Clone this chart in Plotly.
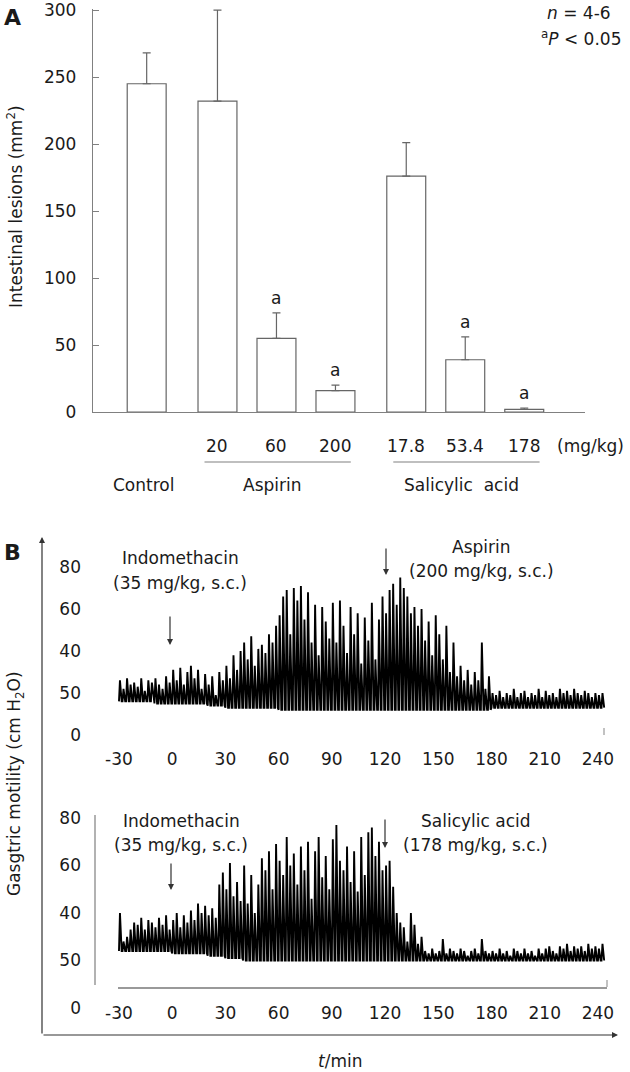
import plotly.graph_objects as go

# ---------------- Panel A data ----------------
group_names = ["Control", "Aspirin", "Salicylic  acid"]
dose_labels = ["", "20", "60", "200", "17.8", "53.4", "178"]
bar_group = [0, 1, 1, 1, 2, 2, 2]
lesion_mean = [245, 232, 55, 16, 176, 39, 2]
lesion_err = [23, 68, 19, 4, 25, 17, 1]
significance = ["", "", "a", "a", "", "a", "a"]
lesion_ticks = [0, 50, 100, 150, 200, 250, 300]

# ---------------- Panel B data ----------------
time_ticks = [-30, 0, 30, 60, 90, 120, 150, 180, 210, 240]
motility_tickvals = [0, 20, 40, 60, 80]
motility_ticktext = ["0", "50", "40", "60", "80"]
trace_start = -30   # min
trace_step = 2      # min between successive contraction peaks

# Aspirin recording: peak heights every 2 min from t = -30
aspirin_peaks = [
    26, 22, 27, 24, 25,  23, 27, 21, 26, 25,  27, 24, 22, 28, 25,
    31, 26, 32, 24, 30,  33, 27, 31, 22, 29,  24, 28, 19, 30, 26,
    33, 27, 38, 31, 40,  44, 36, 47, 33, 41,  43, 39, 48, 44, 52,
    57, 66, 69, 48, 70,  64, 71, 55, 68, 44,  62, 38, 61, 54, 46,
    63, 44, 64, 52, 39,  61, 48, 58, 34, 56,  45, 63, 36, 55, 66,
    58, 69, 72, 62, 75,  70, 66, 58, 61, 52,  60, 45, 54, 38, 57,
    48, 36, 52, 30, 44,  28, 33, 26, 31, 24,  30, 26, 44, 22, 28,
    20, 19, 21, 18, 20,  19, 22, 18, 20, 21,  18, 20, 19, 22, 18,
    21, 19, 20, 18, 22,  20, 21, 19, 22, 20,  19, 21, 20, 18, 20,
    19, 20,
]
# baseline per 10-min segment from t = -30
aspirin_base = [16, 16, 15, 15, 15, 14, 13, 13, 13, 12,
                12, 12, 12, 12, 12, 12, 12, 12, 12, 12,
                12, 13, 13, 13, 13, 13, 13, 13]

# Salicylic acid recording
salicylic_peaks = [
    40, 28, 30, 33, 36,  35, 38, 33, 37, 36,  34, 38, 35, 39, 33,
    37, 40, 34, 39, 36,  41, 37, 44, 40, 43,  39, 42, 38, 52, 57,
    50, 61, 47, 53, 45,  60, 44, 56, 40, 52,  63, 58, 66, 50, 69,
    62, 56, 72, 60, 65,  52, 68, 58, 70, 46,  66, 72, 55, 64, 50,
    71, 77, 62, 58, 68,  53, 66, 49, 72, 56,  74, 76, 64, 70, 58,
    60, 62, 51, 40, 36,  34, 28, 40, 35, 27,  30, 24, 23, 25, 23,
    24, 29, 23, 25, 24,  23, 25, 24, 22, 24,  25, 23, 29, 24, 23,
    24, 23, 25, 23, 24,  22, 25, 24, 23, 25,  23, 24, 22, 25, 23,
    25, 26, 24, 23, 26,  25, 27, 24, 26, 25,  26, 24, 27, 25, 26,
    25, 27,
]
salicylic_base = [24, 24, 24, 23, 23, 22, 21, 20, 20, 20,
                  20, 20, 20, 20, 20, 20, 20, 20, 20, 20,
                  20, 20, 20, 20, 20, 20, 20, 20]

# ---------------- helpers ----------------
W, H = 630, 1072
FONT = "DejaVu Sans"
TXT = "#1a1a1a"
GRAY = "#808080"


def px(x):
    return x / W


def py(y):
    return 1 - y / H


def recording(peaks, base10):
    xs, ys = [], []
    for i, p in enumerate(peaks):
        t = trace_start + i * trace_step
        b = base10[int((t - trace_start) // 10)]
        xs += [t, t + 0.55, t + 1.5]
        ys += [b, p, b]
    return xs, ys


# bar positions (layout): unit spacing within groups, extra gap between groups
positions = []
pos = 0.0
prev_g = None
for g in bar_group:
    if prev_g is not None:
        pos += 1.0 if g == prev_g else 1.2
    positions.append(pos)
    prev_g = g

fig = go.Figure()

fig.add_trace(go.Bar(
    x=positions, y=lesion_mean, width=0.66,
    marker=dict(color="white", line=dict(color="#666666", width=1.2)),
    error_y=dict(type="data", array=lesion_err, arrayminus=[0] * len(lesion_err),
                 symmetric=False, color="#666666", thickness=1.2, width=4),
    xaxis="x", yaxis="y", showlegend=False, hoverinfo="skip", cliponaxis=False,
))

ax_, ay_ = recording(aspirin_peaks, aspirin_base)
fig.add_trace(go.Scatter(x=ax_, y=ay_, mode="lines",
                         line=dict(color="black", width=1.9),
                         xaxis="x2", yaxis="y2", showlegend=False, hoverinfo="skip"))
sx_, sy_ = recording(salicylic_peaks, salicylic_base)
fig.add_trace(go.Scatter(x=sx_, y=sy_, mode="lines",
                         line=dict(color="black", width=1.9),
                         xaxis="x3", yaxis="y3", showlegend=False, hoverinfo="skip"))

# time mapping: px = T0 + K * t
T0, K = 172.2, 1.774


def t_of(pxv):
    return (pxv - T0) / K


annotations = []


def txt(x, y, s, size=17, xanchor="center", yanchor="middle", **kw):
    annotations.append(dict(x=px(x), y=py(y), xref="paper", yref="paper", text=s,
                            showarrow=False, xanchor=xanchor, yanchor=yanchor,
                            font=dict(family=FONT, size=size, color=TXT), **kw))


def arrow(x, y_tip, y_tail=None, x_tail=None):
    ax = 0 if x_tail is None else (x_tail - x)
    ay = 0 if y_tail is None else (y_tail - y_tip)
    annotations.append(dict(x=px(x), y=py(y_tip), xref="paper", yref="paper", text="",
                            showarrow=True, ax=ax, ay=ay, axref="pixel", ayref="pixel",
                            arrowhead=2, arrowsize=1, arrowwidth=1.2, arrowcolor="#333333"))


# Panel A texts
txt(12, 18, "<b>A</b>", size=22)
txt(613, 13, "<i>n</i> = 4-6", xanchor="right")
txt(623, 38, "<sup>a</sup><i>P</i> &lt; 0.05", xanchor="right")
txt(15, 207, "Intestinal lesions (mm<sup>2</sup>)", textangle=-90)

for p, d in zip(positions, dose_labels):
    if d:
        annotations.append(dict(x=p, y=py(446), xref="x", yref="paper", text=d, showarrow=False,
                                font=dict(family=FONT, size=17, color=TXT)))
txt(626, 446, "(mg/kg)", xanchor="right")

for gi, name in enumerate(group_names):
    gp = [p for p, g in zip(positions, bar_group) if g == gi]
    annotations.append(dict(x=sum(gp) / len(gp), y=py(485), xref="x", yref="paper", text=name,
                            showarrow=False, xshift=-4 if gi else -3,
                            font=dict(family=FONT, size=17, color=TXT)))

for p, m, e, s in zip(positions, lesion_mean, lesion_err, significance):
    if s:
        annotations.append(dict(x=p, y=m + e, xref="x", yref="y", text=s, showarrow=False,
                                yanchor="middle", yshift=15,
                                font=dict(family=FONT, size=17, color=TXT)))

shapes = []
for gi in (1, 2):
    gp = [p for p, g in zip(positions, bar_group) if g == gi]
    shapes.append(dict(type="line", xref="x", yref="paper", x0=gp[0] - 0.22, x1=gp[-1] + 0.26,
                       y0=py(462), y1=py(462), line=dict(color=GRAY, width=1.2)))

# Panel B texts
txt(12, 552, "<b>B</b>", size=22)
txt(15, 784, "Gasgtric motility (cm H<sub>2</sub>O)", textangle=-90)
txt(180, 558, "Indomethacin")
txt(180, 583, "(35 mg/kg, s.c.)")
txt(482, 547, "Aspirin")
txt(482, 571, "(200 mg/kg, s.c.)")
txt(182, 821, "Indomethacin")
txt(181, 845, "(35 mg/kg, s.c.)")
txt(476, 821, "Salicylic acid")
txt(475, 845, "(178 mg/kg, s.c.)")
txt(340, 1061, "<i>t</i>/min")

arrow(170, 645, 615)
arrow(386, 575, 547)
arrow(171, 890, 862)
arrow(385, 848, 818)
# outer L-shaped axes with arrowheads
arrow(42, 537, 1035)
arrow(618, 1035, x_tail=42)

# small gray marks
shapes.append(dict(type="line", xref="paper", yref="paper", x0=px(95), x1=px(95),
                   y0=py(815), y1=py(985), line=dict(color="#999999", width=1.5)))
shapes.append(dict(type="line", xref="paper", yref="paper", x0=px(607), x1=px(607),
                   y0=py(980), y1=py(987), line=dict(color="#999999", width=1.2)))
shapes.append(dict(type="line", xref="paper", yref="paper", x0=px(604), x1=px(604),
                   y0=py(728), y1=py(735), line=dict(color="#999999", width=1.2)))

tickfont = dict(family=FONT, size=17, color=TXT)
time_ticktext = [str(v) for v in time_ticks]

fig.update_layout(
    width=W, height=H, margin=dict(l=0, r=0, t=0, b=0, pad=0, autoexpand=False),
    paper_bgcolor="white", plot_bgcolor="white", showlegend=False,
    bargap=0,
    xaxis=dict(domain=[px(93), px(585)], range=[-0.91, 7.43], anchor="y", automargin=False,
               showline=True, linecolor=GRAY, linewidth=1.2, showticklabels=False,
               ticks="", showgrid=False, zeroline=False),
    yaxis=dict(domain=[py(412), py(9)], range=[0, 300.8], anchor="x", automargin=False,
               showline=True, linecolor=GRAY, linewidth=1.2, ticks="inside", ticklen=6,
               tickcolor=GRAY, tickvals=lesion_ticks, tickfont=tickfont,
               ticklabelstandoff=12, showgrid=False, zeroline=False),
    xaxis2=dict(domain=[px(100), px(620)], range=[t_of(100), t_of(620)], automargin=False,
                anchor="free", position=py(745), showline=False, ticks="",
                tickvals=time_ticks, ticktext=time_ticktext, tickfont=tickfont,
                showgrid=False, zeroline=False, ticklabelstandoff=2),
    yaxis2=dict(domain=[py(745), py(545)], range=[(735 - 745) / 2.1, (735 - 545) / 2.1],
                anchor="free", position=px(95), showline=False, ticks="", automargin=False,
                tickvals=motility_tickvals, ticktext=motility_ticktext, tickfont=tickfont,
                ticklabelstandoff=14, showgrid=False, zeroline=False),
    xaxis3=dict(domain=[px(118), px(607)], range=[t_of(118), t_of(607)], automargin=False,
                anchor="free", position=py(987), showline=True, linecolor="#999999",
                linewidth=1.5, ticks="", tickvals=time_ticks, ticktext=time_ticktext,
                tickfont=tickfont, showgrid=False, zeroline=False, ticklabelstandoff=10),
    yaxis3=dict(domain=[py(1015), py(795)], range=[(1008 - 1015) / 2.375, (1008 - 795) / 2.375],
                anchor="free", position=px(95), showline=False, ticks="", automargin=False,
                tickvals=motility_tickvals, ticktext=motility_ticktext, tickfont=tickfont,
                ticklabelstandoff=14, showgrid=False, zeroline=False),
    annotations=annotations, shapes=shapes,
)

fig.write_html("out.html", config={"displayModeBar": False, "staticPlot": True},
               post_script="document.body.style.margin='0px';")
